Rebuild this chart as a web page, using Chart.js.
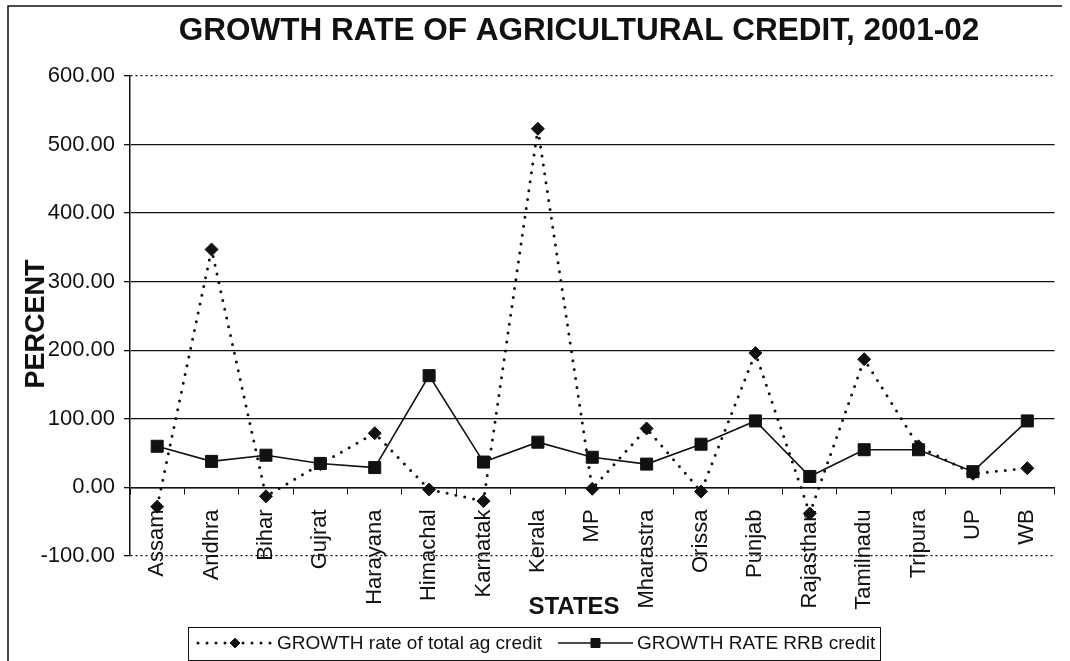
<!DOCTYPE html>
<html>
<head>
<meta charset="utf-8">
<title>Growth rate of agricultural credit, 2001-02</title>
<script src="https://cdn.jsdelivr.net/npm/chart.js@4.4.1/dist/chart.umd.min.js"></script>
<style>
  html, body { margin: 0; padding: 0; background: #fff; }
  #wrap { width: 1070px; height: 661px; position: relative; }
</style>
</head>
<body>
<div id="wrap"><canvas id="chartCredit"></canvas></div>
<script>
const states = ['Assam', 'Andhra', 'Bihar', 'Gujrat', 'Harayana', 'Himachal', 'Karnatak', 'Kerala', 'MP',
  'Mharastra', 'Orissa', 'Punjab', 'Rajasthan', 'Tamilnadu', 'Tripura', 'UP', 'WB'];

// growth rate of total agricultural credit (%)
const totalAgCredit = [-28, 347, -13, 34, 79, -3, -20, 523, -2, 86, -6, 196, -38, 187, 60, 20, 28];

// growth rate of RRB credit (%)
const rrbCredit = [60, 38, 47, 35, 29, 163, 37, 66, 44, 34, 63, 97, 16, 55, 55, 23, 97];

const yMin = -100;
const yMax = 600;
const yStep = 100;

const titleText = 'GROWTH RATE OF AGRICULTURAL CREDIT, 2001-02';
const yTitle = 'PERCENT';
const xTitle = 'STATES';
const seriesNames = ['GROWTH rate of total ag credit', 'GROWTH RATE RRB credit'];

const INK = '#111';
const FONT = '"Liberation Sans", Arial, sans-serif';

// title, axis titles, legend box and outer frame
const decorPlugin = {
  id: 'decor',
  afterDraw(chart) {
    const ctx = chart.ctx;
    const area = chart.chartArea;
    ctx.save();
    ctx.fillStyle = INK;
    ctx.strokeStyle = INK;

    // outer frame (top and left edges survive)
    ctx.lineWidth = 1.5;
    ctx.beginPath();
    ctx.moveTo(8, 661);
    ctx.lineTo(8, 6);
    ctx.lineTo(1062, 6);
    ctx.stroke();

    // chart title
    ctx.font = 'bold 31.5px ' + FONT;
    ctx.textAlign = 'center';
    ctx.textBaseline = 'middle';
    ctx.fillText(titleText, 579, 31);

    // y axis title, sits over the tick labels
    ctx.save();
    ctx.translate(37, (area.top + area.bottom) / 2 + 8);
    ctx.rotate(-Math.PI / 2);
    ctx.font = 'bold 27px ' + FONT;
    ctx.fillText(yTitle, 0, 0);
    ctx.restore();

    // x axis title
    ctx.font = 'bold 24px ' + FONT;
    ctx.fillText(xTitle, 574, 607);

    // legend
    const lx = 188, ly = 627, lw = 692, lh = 33;
    ctx.lineWidth = 1;
    ctx.strokeRect(lx + 0.5, ly + 0.5, lw, lh);
    const midY = ly + 16;
    const sets = chart.data.datasets;
    const items = [
      { x0: 198, x1: 272, textX: 277, ds: sets[0] },
      { x0: 558, x1: 633, textX: 637, ds: sets[1] }
    ];
    ctx.font = '19px ' + FONT;
    ctx.textAlign = 'left';
    items.forEach((it, i) => {
      ctx.save();
      ctx.lineWidth = it.ds.borderWidth;
      ctx.lineCap = it.ds.borderCapStyle || 'butt';
      ctx.setLineDash(it.ds.borderDash || []);
      ctx.beginPath();
      ctx.moveTo(it.x0, midY);
      ctx.lineTo(it.x1, midY);
      ctx.stroke();
      ctx.restore();
      ctx.fillStyle = INK;
      Chart.helpers.drawPoint(ctx, {
        pointStyle: it.ds.pointStyle,
        radius: it.ds.pointRadius * 0.75,
        rotation: 0,
        borderWidth: 1
      }, (it.x0 + it.x1) / 2, midY);
      ctx.fillText(seriesNames[i], it.textX, midY + 1);
    });
    ctx.restore();
  }
};

function initChart() {
  const ctx = document.getElementById('chartCredit').getContext('2d');
  return new Chart(ctx, {
    type: 'line',
    data: {
      labels: states,
      datasets: [{
        label: seriesNames[0],
        data: totalAgCredit,
        borderColor: INK,
        borderWidth: 3,
        borderDash: [0, 9],
        borderCapStyle: 'round',
        pointStyle: 'rectRot',
        pointRadius: 6.5,
        pointBackgroundColor: INK,
        pointBorderColor: INK,
        pointBorderWidth: 1,
        tension: 0,
        order: 1
      }, {
        label: seriesNames[1],
        data: rrbCredit,
        borderColor: INK,
        borderWidth: 1.6,
        pointStyle: 'rect',
        pointRadius: 8.5,
        pointBackgroundColor: INK,
        pointBorderColor: INK,
        pointBorderWidth: 1,
        tension: 0,
        order: 0
      }]
    },
    options: {
      responsive: true,
      maintainAspectRatio: false,
      animation: false,
      layout: { padding: { left: 0, top: 76, right: 3, bottom: 105 } },
      plugins: {
        legend: { display: false },
        title: { display: false },
        tooltip: { enabled: false }
      },
      scales: {
        x: {
          type: 'category',
          position: { y: 0 },
          offset: true,
          grid: { display: true, offset: true, drawOnChartArea: false, drawTicks: true, tickLength: 6, color: INK, lineWidth: 1 },
          border: { display: true, color: INK, width: 1.5 },
          ticks: {
            color: INK,
            font: { family: FONT, size: 22 },
            minRotation: 90,
            maxRotation: 90,
            autoSkip: false,
            padding: 16
          }
        },
        y: {
          min: yMin,
          max: yMax,
          afterFit: (scale) => { scale.width = 130; },
          grid: {
            color: INK,
            lineWidth: 1.3,
            tickLength: 6
          },
          border: {
            display: true,
            color: INK,
            width: 1.5,
            dash: (c) => {
              if (c.type === 'scale') return [3, 2];
              if (c.tick && (c.tick.value === yMin || c.tick.value === yMax)) return [2, 3];
              return [];
            }
          },
          ticks: {
            stepSize: yStep,
            color: INK,
            font: { family: FONT, size: 22 },
            padding: 9,
            callback: (v) => Number(v).toFixed(2)
          }
        }
      }
    },
    plugins: [decorPlugin]
  });
}

document.addEventListener('DOMContentLoaded', initChart);
</script>
</body>
</html>
